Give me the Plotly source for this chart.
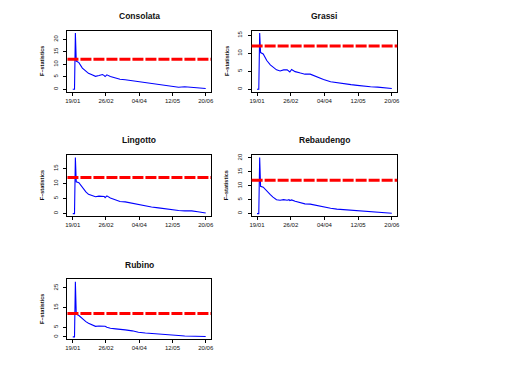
import plotly.graph_objects as go

# days since 19/01
days = [0, 2, 3, 4, 7, 11, 15, 18, 22, 26, 30, 34, 36, 37, 39, 43, 49, 54,
        60, 68, 75, 83, 90, 98, 106, 113, 121, 128, 136, 143, 152]

consolata = [0, 0, 22.5, 11.3, 10.7, 8.5, 7.3, 6.4, 5.8, 5.2, 5.5, 5.9, 5.5, 5.1,
             5.8, 5.1, 4.5, 4.0, 3.8, 3.4, 3.0, 2.7, 2.2, 1.8, 1.4, 1.1, 0.8, 1.0,
             0.8, 0.5, 0.3]
grassi = [0, 0, 15.6, 10.2, 9.8, 8.0, 6.8, 6.1, 5.4, 5.1, 5.4, 5.4, 4.9, 4.8,
          5.5, 4.9, 4.5, 4.2, 4.2, 3.3, 2.7, 2.1, 1.8, 1.6, 1.3, 1.1, 0.8, 0.7,
          0.6, 0.45, 0.2]
lingotto = [0, 0, 18.7, 10.6, 10.3, 8.7, 7.2, 6.4, 5.9, 5.6, 5.8, 5.9, 5.7, 5.3,
            5.9, 5.2, 4.6, 4.0, 3.9, 3.4, 2.9, 2.6, 2.2, 1.9, 1.6, 1.2, 1.0, 0.9,
            0.9, 0.6, 0.2]
rebaudengo = [0, 0, 20.2, 9.8, 9.5, 8.0, 6.8, 5.9, 5.0, 4.8, 5.0, 4.8, 5.0, 4.7,
              4.9, 4.4, 3.8, 3.5, 3.4, 2.8, 2.3, 1.9, 1.6, 1.4, 1.2, 1.0, 0.7, 0.6,
              0.5, 0.4, 0.1]
rubino = [0, 0, 28.2, 11.6, 10.9, 9.2, 7.8, 7.0, 6.1, 5.4, 5.6, 5.4, 5.3, 5.4,
          4.9, 4.4, 4.1, 3.7, 3.6, 3.1, 2.4, 2.0, 1.7, 1.4, 1.0, 0.85, 0.7, 0.5,
          0.5, 0.3, 0.2]

names = ["Consolata", "Grassi", "Lingotto", "Rebaudengo", "Rubino"]
series = [consolata, grassi, lingotto, rebaudengo, rubino]
yticks = [[0, 5, 10, 15, 20], [0, 5, 10, 15], [0, 5, 10, 15],
          [0, 5, 10, 15, 20], [0, 5, 15, 25]]

date_ticks = [0, 38, 76, 114, 152]
date_labels = ["19/01", "26/02", "04/04", "12/05", "20/06"]
threshold = 12

# page body keeps its default 8px margin, so the figure is 16px smaller
OFF = 8
W, H = 530 - 2 * OFF, 367 - 2 * OFF
# panel boxes in page pixels: (left, right, top, bottom)
boxes = [(66, 211, 29, 90), (252, 399, 29, 90),
         (66, 211, 154, 215), (252, 399, 154, 215),
         (66, 211, 279, 339)]

FONT = "Liberation Sans, Arial, sans-serif"
fig = go.Figure()
annotations = []
shapes = []

for i, (name, vals, yt, box) in enumerate(zip(names, series, yticks, boxes)):
    k = "" if i == 0 else str(i + 1)
    l, r, t, b = (v - OFF for v in box)
    fig.add_trace(go.Scatter(
        x=days, y=vals, mode="lines", xaxis="x" + k, yaxis="y" + k,
        line=dict(color="#0000FF", width=1.1), showlegend=False,
    ))
    ymax = max(vals)
    fig.layout["xaxis" + k] = dict(
        domain=[l / W, r / W], anchor="y" + k,
        range=[-0.04 * 152, 1.04 * 152],
        tickvals=date_ticks, ticktext=date_labels,
        tickfont=dict(size=6, color="#111", family=FONT),
        ticks="outside", ticklen=3, tickcolor="black",
        showline=True, linecolor="black", linewidth=1, mirror=True,
        showgrid=False, zeroline=False,
    )
    fig.layout["yaxis" + k] = dict(
        domain=[1 - b / H, 1 - t / H], anchor="x" + k,
        range=[-0.04 * ymax, 1.04 * ymax],
        tickvals=yt, tickangle=-90, ticklabelstandoff=3,
        tickfont=dict(size=6, color="#111", family=FONT),
        ticks="outside", ticklen=3, tickcolor="black",
        showline=True, linecolor="black", linewidth=1, mirror=True,
        showgrid=False, zeroline=False,
    )
    shapes.append(dict(
        type="line", xref="x" + k + " domain", yref="y" + k,
        x0=0, x1=1, y0=threshold, y1=threshold,
        line=dict(color="#FF0000", width=3, dash="11px,2px"),
    ))
    # panel title, about 15px above the box
    annotations.append(dict(
        text="<b>" + name + "</b>", xref="paper", yref="paper",
        x=(l + r) / 2 / W, y=1 - (t - 15) / H, showarrow=False,
        yanchor="middle", xanchor="center",
        font=dict(size=8.5, color="#111", family=FONT),
    ))
    annotations.append(dict(
        text="<b>F\u2013statistics</b>", xref="paper", yref="paper",
        x=(l - 25) / W, y=1 - (t + b) / 2 / H, showarrow=False,
        textangle=-90, xanchor="center", yanchor="middle",
        font=dict(size=5.5, color="#111", family=FONT),
    ))

fig.update_layout(
    width=W, height=H,
    margin=dict(l=0, r=0, t=0, b=0),
    paper_bgcolor="white", plot_bgcolor="white",
    shapes=shapes, annotations=annotations,
    showlegend=False,
)

fig.write_html("out.html")
